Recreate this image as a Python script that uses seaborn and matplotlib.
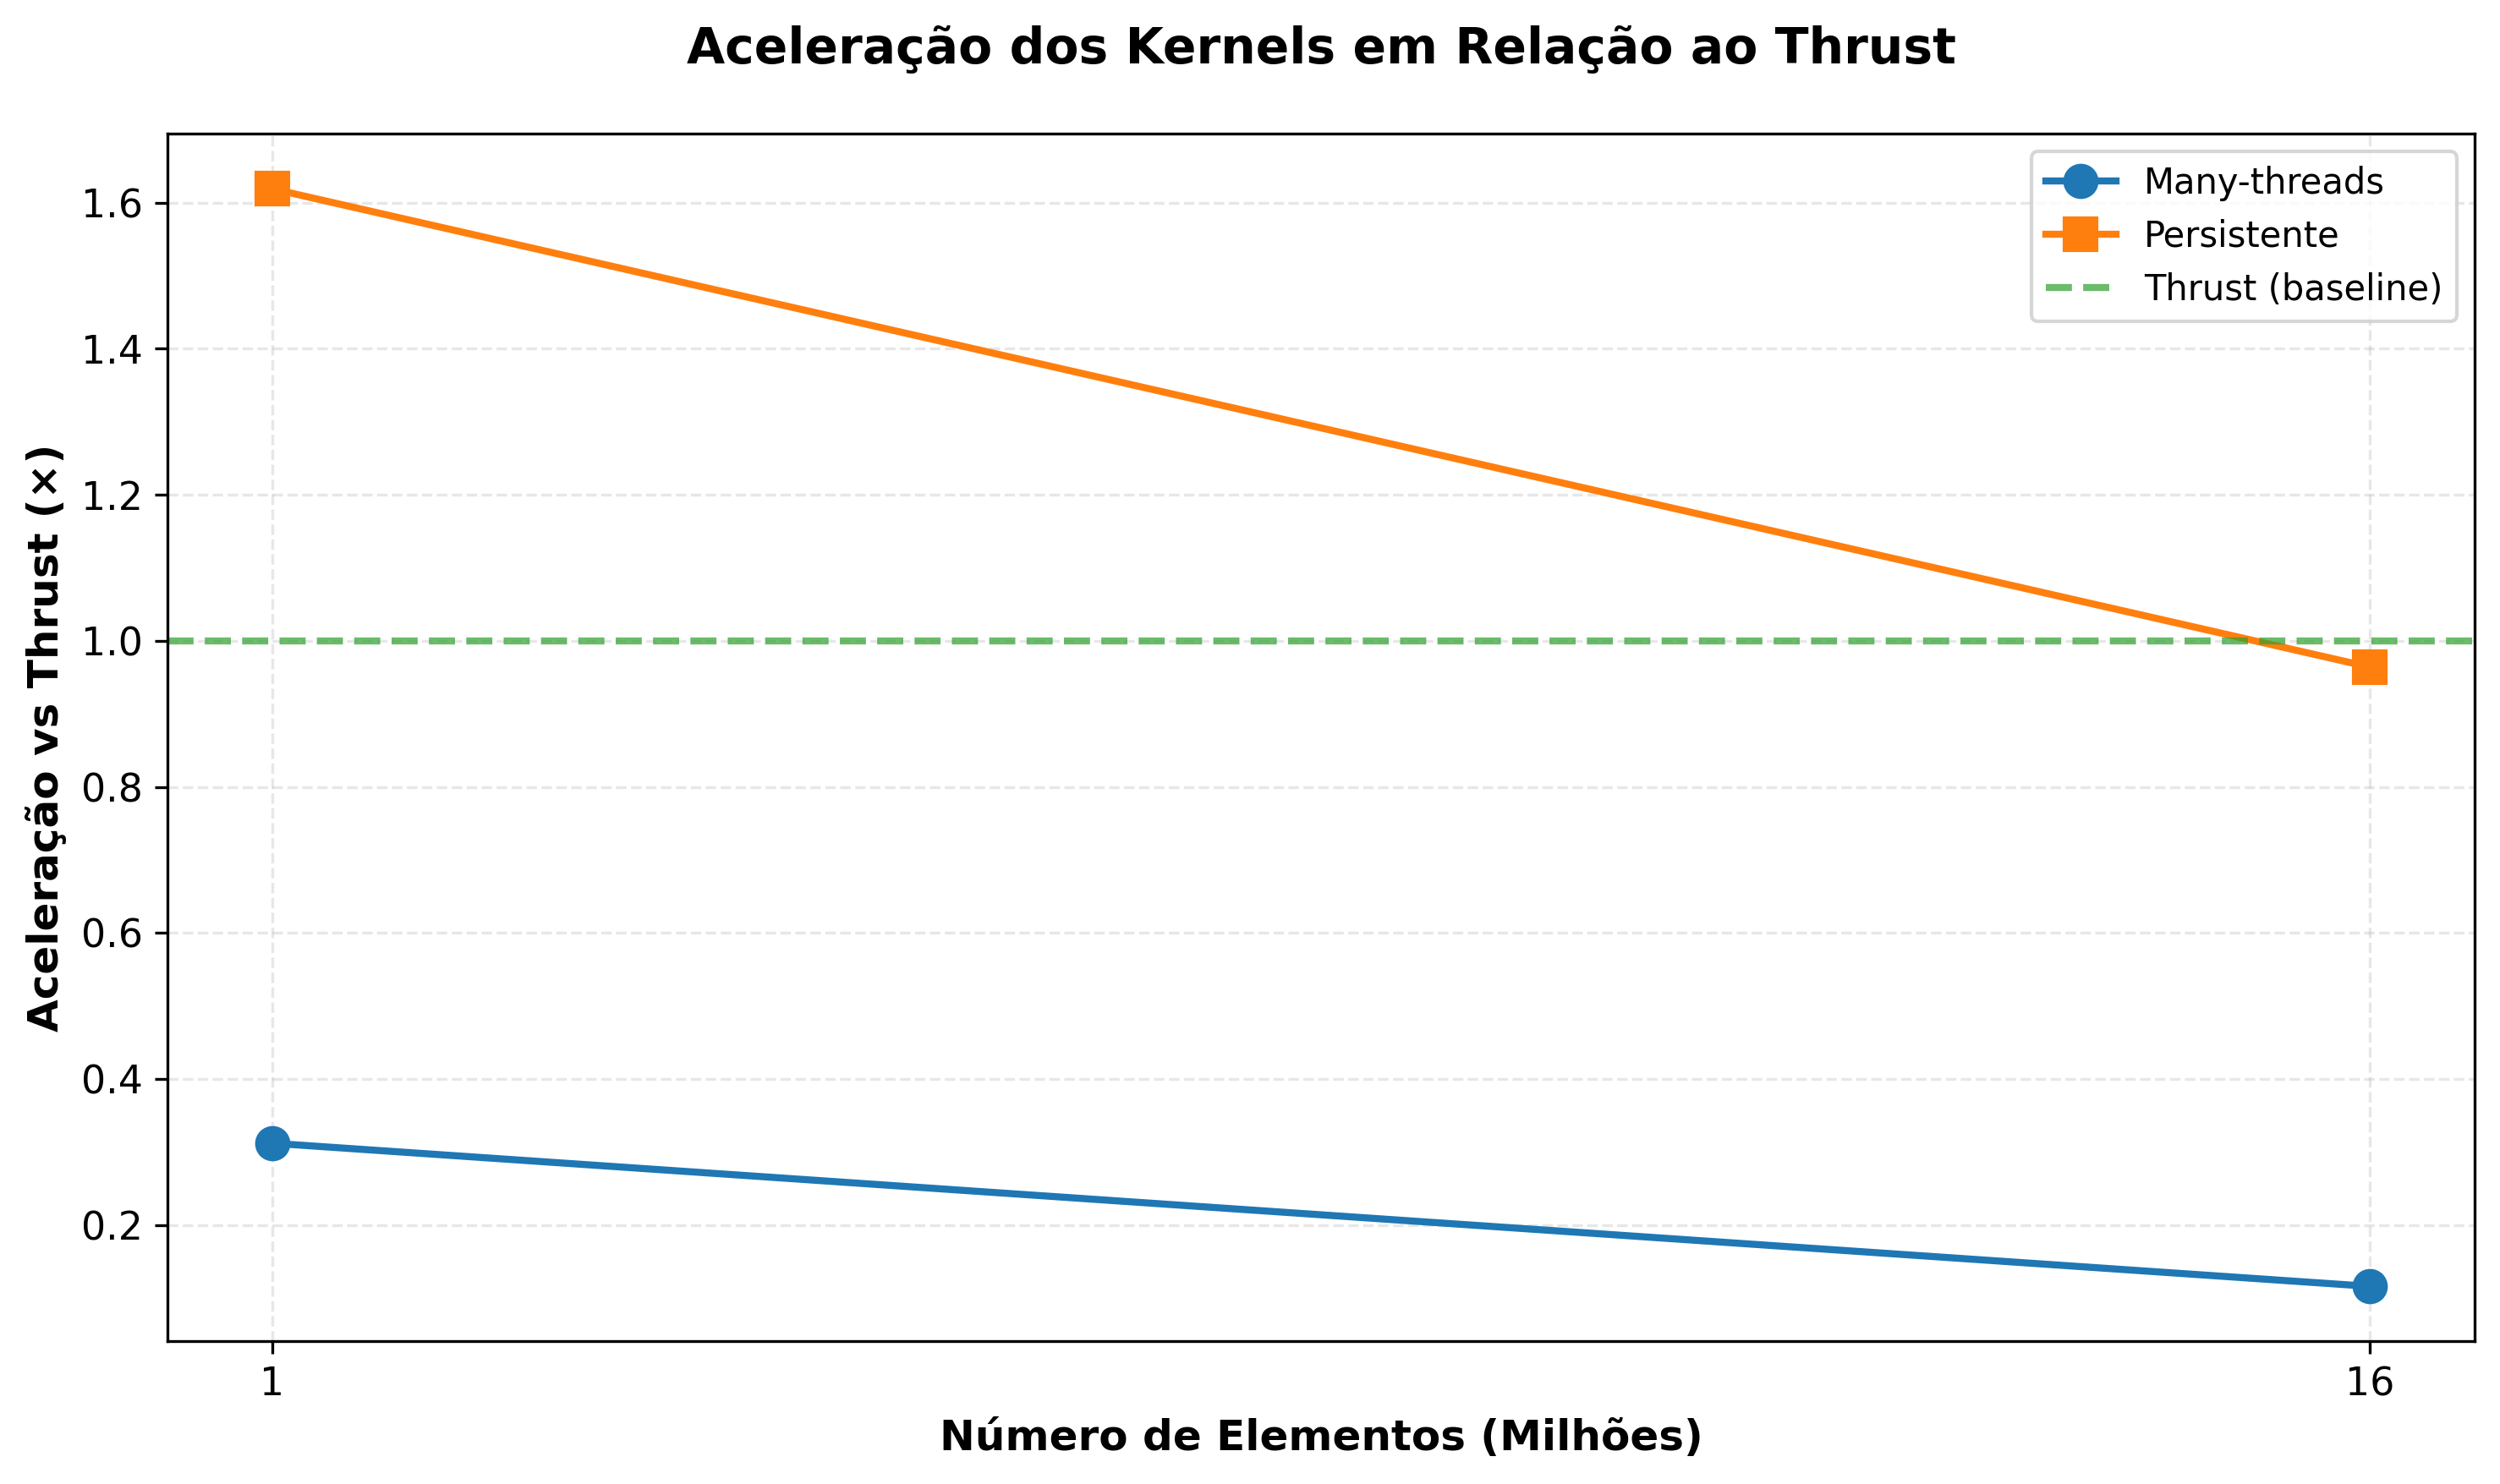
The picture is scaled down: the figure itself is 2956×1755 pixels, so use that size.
import matplotlib
matplotlib.use("Agg")
import matplotlib.pyplot as plt
import seaborn as sns
import pandas as pd

# Tamanhos de entrada (milhões de elementos)
elements = [1, 16]

# Aceleração em relação ao Thrust
many_threads = [0.312, 0.116]
persistente = [1.619, 0.964]
baseline = 1.0

series_names = ["Many-threads", "Persistente"]
series_markers = ["o", "s"]
series_colors = ["#1f77b4", "#ff7f0e"]

plt.rcParams["font.family"] = ["DejaVu Sans"]
plt.rcParams["font.size"] = 11

df = pd.DataFrame({
    "elementos": elements * 2,
    "speedup": many_threads + persistente,
    "kernel": [series_names[0]] * 2 + [series_names[1]] * 2,
})

fig, ax = plt.subplots(figsize=(10, 6))

for name, marker, color in zip(series_names, series_markers, series_colors):
    sub = df[df["kernel"] == name]
    sns.lineplot(data=sub, x="elementos", y="speedup", ax=ax, marker=marker,
                 color=color, linewidth=2, markersize=9,
                 markeredgecolor=color, markeredgewidth=1, label=name)

ax.axhline(baseline, linestyle="--", color="#2ca02c", alpha=0.7,
           linewidth=2, label="Thrust (baseline)")

ax.set_xticks(elements)
ax.set_xticklabels([str(e) for e in elements])
ax.tick_params(labelsize=11)

ax.set_title("Aceleração dos Kernels em Relação ao Thrust",
             fontsize=14, fontweight="bold", pad=20)
ax.set_xlabel("Número de Elementos (Milhões)", fontsize=12, fontweight="bold")
ax.set_ylabel("Aceleração vs Thrust (×)", fontsize=12, fontweight="bold")

ax.grid(True, linestyle="--", alpha=0.3)
ax.legend(loc="upper right", fontsize=10)

plt.tight_layout()
plt.savefig("out.png", dpi=300, bbox_inches="tight")
